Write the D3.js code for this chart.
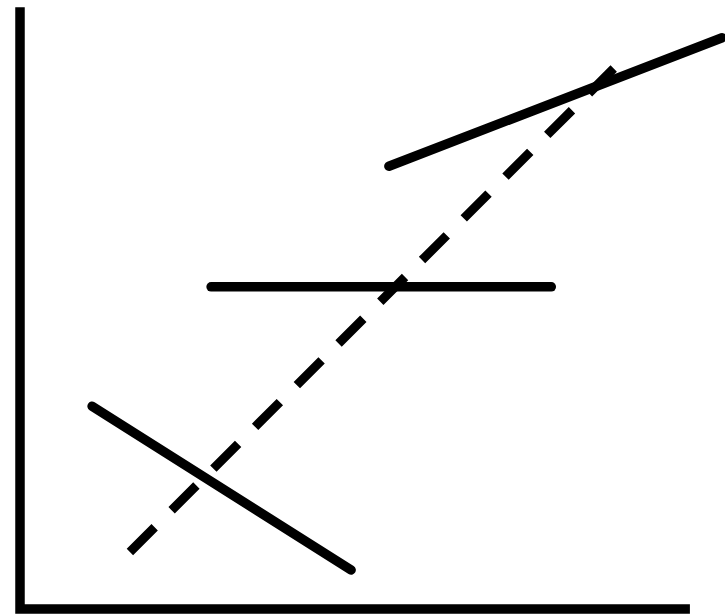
<!DOCTYPE html>
<html><head><meta charset="utf-8">
<script src="https://cdn.jsdelivr.net/npm/d3@7"></script>
<style>html,body{margin:0;padding:0;background:#fff;}svg{display:block;}</style>
</head><body>
<svg id="chart" width="725" height="615"></svg>
<script>
// Axis extents (data units)
const axisX = [0, 95.7];
const axisY = [0, 100.3];
// Solid group segments: [x1, y1, x2, y2]
const groupSegments = [
  [10.3, 33.8, 47.3, 6.5],
  [27.3, 53.7, 75.9, 53.7],
  [52.7, 73.8, 100.3, 95.2]
];
// Dashed overall trend
const trendSegment = [15.7, 9.5, 85.6, 91.0];

const svg = d3.select("#chart");
const x = d3.scaleLinear().domain([0, 100]).range([20, 720]);
const y = d3.scaleLinear().domain([0, 100]).range([609, 9]);

const line = d3.line().x(d => x(d[0])).y(d => y(d[1]));

svg.append("path")
  .attr("d", line([[axisX[0], axisY[1]], [axisX[0], axisY[0]], [axisX[1], axisY[0]]]))
  .attr("fill", "none").attr("stroke", "#000").attr("stroke-width", 9.5)
  .attr("stroke-linejoin", "miter").attr("stroke-linecap", "butt");

svg.selectAll("path.seg").data(groupSegments).enter().append("path")
  .attr("class", "seg")
  .attr("d", s => line([[s[0], s[1]], [s[2], s[3]]]))
  .attr("fill", "none").attr("stroke", "#000").attr("stroke-width", 9.5)
  .attr("stroke-linecap", "round");

svg.append("path")
  .attr("d", line([[trendSegment[0], trendSegment[1]], [trendSegment[2], trendSegment[3]]]))
  .attr("fill", "none").attr("stroke", "#000").attr("stroke-width", 9)
  .attr("stroke-dasharray", "35,24").attr("stroke-linecap", "butt");
</script>
</body></html>
